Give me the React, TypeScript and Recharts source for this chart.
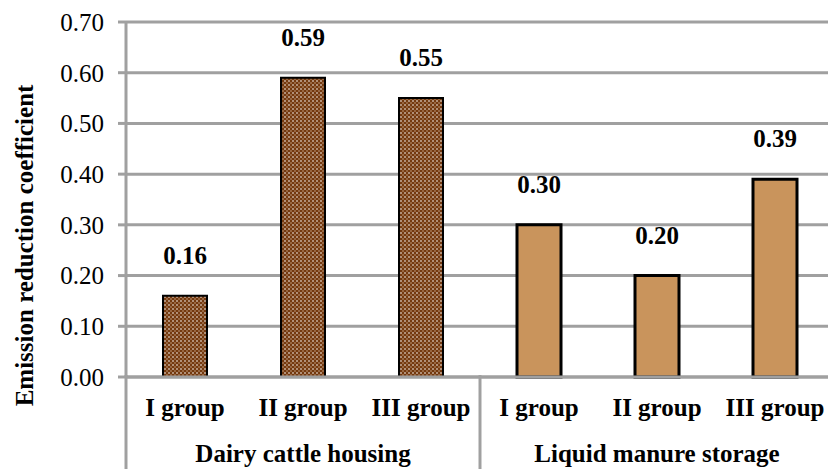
import React from 'react';
import { BarChart, Bar, XAxis, YAxis, CartesianGrid, LabelList, Cell } from 'recharts';

const categories = ['I group', 'II group', 'III group', 'I group', 'II group', 'III group'];
const groups = ['Dairy cattle housing', 'Dairy cattle housing', 'Dairy cattle housing', 'Liquid manure storage', 'Liquid manure storage', 'Liquid manure storage'];
const coefficients = [0.16, 0.59, 0.55, 0.30, 0.20, 0.39];
const yTicks = [0, 0.1, 0.2, 0.3, 0.4, 0.5, 0.6, 0.7];

const data = categories.map((name, i) => ({
  name,
  group: groups[i],
  value: coefficients[i],
}));

const FONT = "'Liberation Serif', 'Times New Roman', serif";
const GRAY = '#a0a0a0';
const FS = 25;

// two-level category axis: group name under the middle bar, separators between groups
const GroupTick = (props: any) => {
  const { x, y, payload, index } = props;
  const step = 118;
  const prev = data[index - 1];
  const cur = data[index];
  const isFirstOfGroup = index === 0 || (prev && prev.group !== cur.group);
  const groupSize = data.filter(d => d.group === cur.group).length;
  const groupStart = data.findIndex(d => d.group === cur.group);
  const isMiddle = index === groupStart + Math.floor(groupSize / 2);
  const txt = { fontFamily: FONT, fontWeight: 'bold' as const, fontSize: FS, fill: '#000' };
  return (
    <g>
      <text x={x} y={y + 31} textAnchor="middle" style={txt}>
        {payload.value}
      </text>
      {isMiddle && (
        <text x={x} y={y + 77} textAnchor="middle" style={txt}>
          {cur.group}
        </text>
      )}
      {isFirstOfGroup && (
        <line x1={x - step / 2} x2={x - step / 2} y1={y - 10} y2={y + 100} stroke={GRAY} strokeWidth={3} />
      )}
    </g>
  );
};

export default function App() {
  return (
    <div style={{ position: 'absolute', left: 0, top: 0, width: 828, height: 469, overflow: 'hidden', background: '#fff' }}>
      <BarChart
        width={840}
        height={469}
        data={data}
        margin={{ top: 22, right: 6, left: 0, bottom: 0 }}
        barSize={44}
      >
        <defs>
          <pattern id="dots" patternUnits="userSpaceOnUse" width={4} height={4}>
            <rect width={4} height={4} fill="#74390f" />
            <circle cx={1} cy={1} r={0.8} fill="#fff" />
            <circle cx={3} cy={3} r={0.7} fill="#d9b99a" />
          </pattern>
        </defs>
        <CartesianGrid horizontal vertical={false} stroke={GRAY} strokeWidth={3} />
        <XAxis
          dataKey="name"
          interval={0}
          height={92}
          axisLine={{ stroke: GRAY, strokeWidth: 3 }}
          tickLine={false}
          tick={<GroupTick />}
        />
        <YAxis
          domain={[0, 0.7]}
          ticks={yTicks}
          width={126}
          tickFormatter={(v: number) => v.toFixed(2)}
          axisLine={{ stroke: GRAY, strokeWidth: 3 }}
          tickLine={{ stroke: GRAY, strokeWidth: 3 }}
          tickSize={8}
          tickMargin={14}
          tick={{ fontSize: FS, fill: '#000', style: { fontFamily: FONT } }}
          label={{
            value: 'Emission reduction coefficient',
            angle: -90,
            position: 'insideLeft',
            dx: 19,
            dy: 46,
            style: { fontFamily: FONT, fontWeight: 'bold', fontSize: FS, fill: '#000', textAnchor: 'middle' },
          }}
        />
        <Bar dataKey="value" isAnimationActive={false}>
          {data.map((d, i) => (
            <Cell
              key={i}
              fill={i < 3 ? 'url(#dots)' : '#c9945c'}
              stroke="#000"
              strokeWidth={i < 3 ? 2 : 3}
            />
          ))}
          <LabelList
            dataKey="value"
            position="top"
            offset={32}
            formatter={(v: any) => Number(v).toFixed(2)}
            style={{ fontFamily: FONT, fontWeight: 'bold', fontSize: FS, fill: '#000' }}
          />
        </Bar>
      </BarChart>
    </div>
  );
}
